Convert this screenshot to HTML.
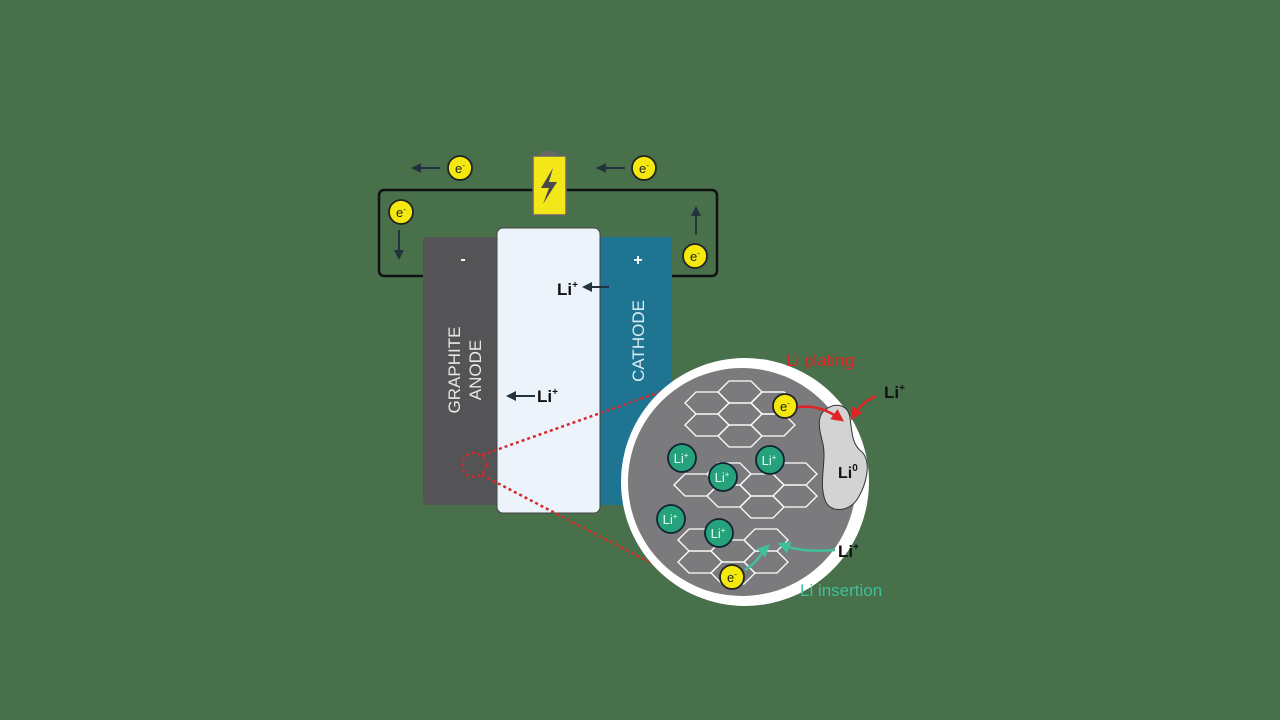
<!DOCTYPE html>
<html><head><meta charset="utf-8"><style>
html,body{margin:0;padding:0;background:#48704b;}
svg{display:block;}
text{font-family:"Liberation Sans",sans-serif;}
</style></head><body>
<svg width="1280" height="720" viewBox="0 0 1280 720" xmlns="http://www.w3.org/2000/svg">
<defs>
<marker id="ah" viewBox="0 0 10 10" refX="8" refY="5" markerWidth="5" markerHeight="5" orient="auto"><path d="M0,0 L10,5 L0,10 z" fill="#22333d"/></marker>
<marker id="ar" viewBox="0 0 10 10" refX="8" refY="5" markerWidth="5" markerHeight="5" orient="auto"><path d="M0,0 L10,5 L0,10 z" fill="#e02424"/></marker>
<marker id="ag" viewBox="0 0 10 10" refX="8" refY="5" markerWidth="5" markerHeight="5" orient="auto"><path d="M0,0 L10,5 L0,10 z" fill="#3fbf9a"/></marker>
<g id="hex"><polygon points="-22,0 -11,-11 11,-11 22,0 11,11 -11,11" fill="none" stroke="#ffffff" stroke-width="1.3"/></g>
</defs>
<rect width="1280" height="720" fill="#48704b"/>
<!-- circuit -->
<rect x="379" y="190" width="338" height="86" rx="5" fill="none" stroke="#111" stroke-width="2.5"/>
<!-- battery -->
<rect x="541" y="151" width="17" height="6" rx="2" fill="#666"/>
<rect x="533" y="156" width="33" height="59" fill="#f3e71a" stroke="#666" stroke-width="1.5"/>
<polygon points="553,168 541,188 549,188 543,204 557,182 549,182" fill="#4a4a4a"/>
<!-- anode -->
<rect x="423" y="237" width="80" height="268" rx="3" fill="#545456"/>
<!-- cathode -->
<rect x="595" y="237" width="77" height="268" rx="3" fill="#1f7591"/>
<!-- separator -->
<rect x="497" y="228" width="103" height="285" rx="6" fill="#edf3fa" stroke="#444" stroke-width="1"/>
<text x="463" y="264" font-size="16" font-weight="bold" fill="#fff" text-anchor="middle">-</text>
<text x="638" y="265" font-size="16" font-weight="bold" fill="#fff" text-anchor="middle">+</text>
<text transform="translate(460,370) rotate(-90)" font-size="17" fill="#e8e8e8" text-anchor="middle">GRAPHITE</text>
<text transform="translate(481,370) rotate(-90)" font-size="17" fill="#e8e8e8" text-anchor="middle">ANODE</text>
<text transform="translate(644,341) rotate(-90)" font-size="17" fill="#d8eef5" text-anchor="middle">CATHODE</text>
<!-- Li+ labels -->
<text x="557" y="295" font-size="17" font-weight="bold" fill="#111">Li<tspan font-size="10" dy="-7">+</tspan></text>
<line x1="609" y1="287" x2="584" y2="287" stroke="#22333d" stroke-width="2" marker-end="url(#ah)"/>
<text x="537" y="402" font-size="17" font-weight="bold" fill="#111">Li<tspan font-size="10" dy="-7">+</tspan></text>
<line x1="535" y1="396" x2="508" y2="396" stroke="#22333d" stroke-width="2" marker-end="url(#ah)"/>
<!-- electron arrows -->
<line x1="440" y1="168" x2="413" y2="168" stroke="#22333d" stroke-width="2" marker-end="url(#ah)"/>
<line x1="625" y1="168" x2="598" y2="168" stroke="#22333d" stroke-width="2" marker-end="url(#ah)"/>
<line x1="399" y1="230" x2="399" y2="258" stroke="#22333d" stroke-width="2" marker-end="url(#ah)"/>
<line x1="696" y1="235" x2="696" y2="208" stroke="#22333d" stroke-width="2" marker-end="url(#ah)"/>
<g font-size="13" text-anchor="middle" fill="#222">
<circle cx="460" cy="168" r="12" fill="#f5e80e" stroke="#222" stroke-width="1.8"/><text x="460" y="173">e<tspan font-size="8" dy="-5">-</tspan></text>
<circle cx="644" cy="168" r="12" fill="#f5e80e" stroke="#222" stroke-width="1.8"/><text x="644" y="173">e<tspan font-size="8" dy="-5">-</tspan></text>
<circle cx="401" cy="212" r="12" fill="#f5e80e" stroke="#222" stroke-width="1.8"/><text x="401" y="217">e<tspan font-size="8" dy="-5">-</tspan></text>
<circle cx="695" cy="256" r="12" fill="#f5e80e" stroke="#222" stroke-width="1.8"/><text x="695" y="261">e<tspan font-size="8" dy="-5">-</tspan></text>
</g>
<!-- zoom lines -->
<circle cx="474" cy="465" r="12" fill="none" stroke="#d42a2a" stroke-width="2" stroke-dasharray="3,3"/>
<line x1="482" y1="455" x2="660" y2="392" stroke="#d42a2a" stroke-width="2.5" stroke-dasharray="3,3"/>
<line x1="482" y1="475" x2="655" y2="565" stroke="#d42a2a" stroke-width="2.5" stroke-dasharray="3,3"/>
<!-- zoom circle -->
<circle cx="745" cy="482" r="124" fill="#ffffff"/>
<circle cx="742" cy="482" r="114" fill="#7b7b7d"/>
<!-- hexes top -->
<use href="#hex" x="707" y="403"/><use href="#hex" x="740" y="392"/><use href="#hex" x="773" y="403"/>
<use href="#hex" x="707" y="425"/><use href="#hex" x="740" y="414"/><use href="#hex" x="773" y="425"/><use href="#hex" x="740" y="436"/><use href="#hex" x="773" y="403"/>
<!-- hexes middle -->
<use href="#hex" x="696" y="485"/><use href="#hex" x="729" y="474"/><use href="#hex" x="762" y="485"/><use href="#hex" x="795" y="474"/>
<use href="#hex" x="729" y="496"/><use href="#hex" x="795" y="496"/><use href="#hex" x="762" y="507"/>
<!-- hexes bottom -->
<use href="#hex" x="700" y="540"/><use href="#hex" x="700" y="562"/><use href="#hex" x="733" y="551"/><use href="#hex" x="766" y="540"/><use href="#hex" x="766" y="562"/><use href="#hex" x="733" y="573"/>
<!-- Li+ balls -->
<g font-size="13" text-anchor="middle" fill="#e8fff5">
<circle cx="682" cy="458" r="14" fill="#25a27c" stroke="#123" stroke-width="1.8"/><text x="681" y="463">Li<tspan font-size="8" dy="-5">+</tspan></text>
<circle cx="723" cy="477" r="14" fill="#25a27c" stroke="#123" stroke-width="1.8"/><text x="722" y="482">Li<tspan font-size="8" dy="-5">+</tspan></text>
<circle cx="770" cy="460" r="14" fill="#25a27c" stroke="#123" stroke-width="1.8"/><text x="769" y="465">Li<tspan font-size="8" dy="-5">+</tspan></text>
<circle cx="671" cy="519" r="14" fill="#25a27c" stroke="#123" stroke-width="1.8"/><text x="670" y="524">Li<tspan font-size="8" dy="-5">+</tspan></text>
<circle cx="719" cy="533" r="14" fill="#25a27c" stroke="#123" stroke-width="1.8"/><text x="718" y="538">Li<tspan font-size="8" dy="-5">+</tspan></text>
</g>
<!-- Li0 blob -->
<path d="M825,410 C835,402 848,404 850,418 C852,432 852,445 862,452 C872,462 866,485 858,498 C850,512 830,514 825,500 C818,480 828,460 822,440 C818,425 818,415 825,410 Z" fill="#d3d3d3" stroke="#333" stroke-width="1"/>
<text x="838" y="478" font-size="16" font-weight="bold" fill="#111">Li<tspan font-size="10" dy="-7">0</tspan></text>
<!-- e- inside -->
<g font-size="13" text-anchor="middle" fill="#222">
<circle cx="785" cy="406" r="12" fill="#f5e80e" stroke="#222" stroke-width="1.8"/><text x="785" y="411">e<tspan font-size="8" dy="-5">-</tspan></text>
<circle cx="732" cy="577" r="12" fill="#f5e80e" stroke="#222" stroke-width="1.8"/><text x="732" y="582">e<tspan font-size="8" dy="-5">-</tspan></text>
</g>
<!-- plating arrows -->
<path d="M798,407 C815,405 828,410 842,420" fill="none" stroke="#e02424" stroke-width="2.5" marker-end="url(#ar)"/>
<path d="M876,396 C866,400 858,408 852,418" fill="none" stroke="#e02424" stroke-width="2.5" marker-end="url(#ar)"/>
<text x="786" y="366" font-size="17" fill="#e02424">Li plating</text>
<text x="884" y="398" font-size="17" font-weight="bold" fill="#111">Li<tspan font-size="10" dy="-7">+</tspan></text>
<!-- insertion arrows -->
<path d="M745,570 C758,562 762,552 768,546" fill="none" stroke="#3fbf9a" stroke-width="2.5" marker-end="url(#ag)"/>
<path d="M835,550 C810,552 795,550 780,544" fill="none" stroke="#3fbf9a" stroke-width="2.5" marker-end="url(#ag)"/>
<text x="838" y="557" font-size="17" font-weight="bold" fill="#111">Li<tspan font-size="10" dy="-7">+</tspan></text>
<text x="800" y="596" font-size="17" fill="#3fbf9a">Li insertion</text>
</svg>
</body></html>
